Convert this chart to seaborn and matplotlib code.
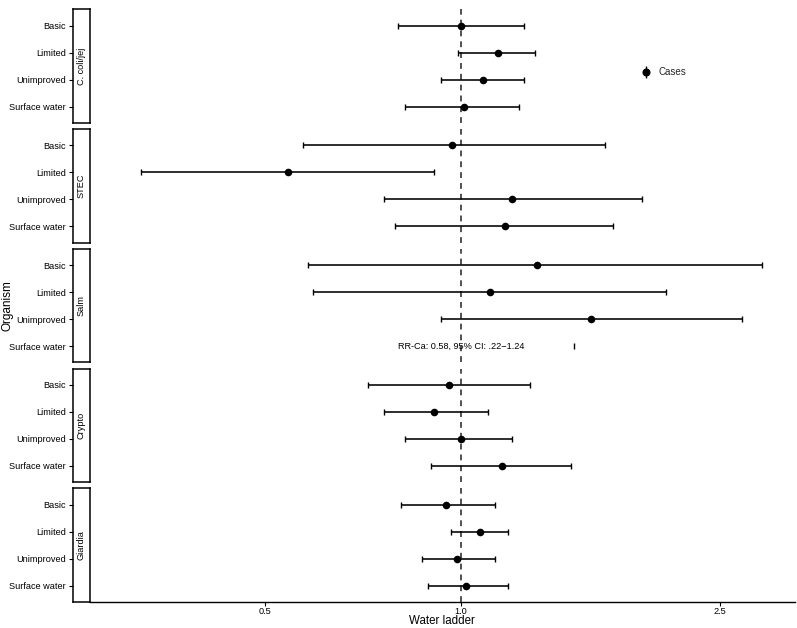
import numpy as np
import pandas as pd
import matplotlib
matplotlib.use("Agg")
import matplotlib.pyplot as plt
from matplotlib.lines import Line2D
from matplotlib.legend_handler import HandlerTuple
import seaborn as sns

sns.set_theme(style="white")
plt.rcParams['font.family'] = ['Liberation Sans', 'DejaVu Sans']

organisms = ["C. coli/jej", "STEC", "Salm", "Crypto", "Giardia"]
levels = ["Basic", "Limited", "Unimproved", "Surface water"]

est = {
    "C. coli/jej": [1.000, 1.139, 1.080, 1.010],
    "STEC":        [0.970, 0.542, 1.198, 1.169],
    "Salm":        [1.307, 1.108, 1.584, np.nan],
    "Crypto":      [0.958, 0.910, 1.000, 1.157],
    "Giardia":     [0.948, 1.070, 0.986, 1.018],
}
lower = {
    "C. coli/jej": [0.801, 0.990, 0.931, 0.820],
    "STEC":        [0.572, 0.322, 0.761, 0.791],
    "Salm":        [0.581, 0.592, 0.932, np.nan],
    "Crypto":      [0.720, 0.761, 0.820, 0.900],
    "Giardia":     [0.809, 0.965, 0.871, 0.890],
}
upper = {
    "C. coli/jej": [1.249, 1.298, 1.249, 1.229],
    "STEC":        [1.665, 0.910, 1.896, 1.715],
    "Salm":        [2.902, 2.064, 2.704, np.nan],
    "Crypto":      [1.278, 1.099, 1.198, 1.476],
    "Giardia":     [1.128, 1.181, 1.128, 1.181],
}
salm_sw_cap = 1.49
annot_text = "RR-Ca: 0.58, 95% CI: .22\u22121.24"
xticks = [0.5, 1.0, 2.5]
xticklabels = ["0.5", "1.0", "2.5"]

W, H = 797, 628
fig = plt.figure(figsize=(W / 100, H / 100), dpi=100)

panel_left, panel_right = 90, 795
strip_left = 73
ph = 113.5
tops = [9.3 + i * 119.75 for i in range(5)]

xlim = (np.exp((panel_left - 461) / 282.5), np.exp((panel_right - 461) / 282.5))

fs_tick = 6.6
axes = []
for i, org in enumerate(organisms):
    top = tops[i]
    b = 1 - (top + ph) / H
    ax = fig.add_axes([panel_left / W, b, (panel_right - panel_left) / W, ph / H])
    sax = fig.add_axes([strip_left / W, b, (panel_left - strip_left) / W, ph / H], sharey=ax)
    axes.append(ax)

    df = pd.DataFrame({"level": levels, "pos": np.arange(4), "est": est[org],
                       "lo": lower[org], "hi": upper[org]})
    d = df.dropna()
    ax.set_xscale("log")
    ax.axvline(1.0, color="#333333", linestyle=(0, (3.5, 3)), linewidth=1.2, zorder=1)
    ax.errorbar(d["est"], d["pos"], xerr=[d["est"] - d["lo"], d["hi"] - d["est"]],
                fmt="none", ecolor="black", elinewidth=1.15, capsize=2.0, capthick=1.0, zorder=2)
    sns.scatterplot(data=d, x="est", y="pos", ax=ax, color="black", s=30,
                    edgecolor="black", linewidth=0, zorder=3, legend=False)
    if org == "Salm":
        ax.plot([salm_sw_cap], [3], marker="|", color="black", markersize=4, mew=1.0, ls="none")
        ax.text(1.0, 3, annot_text, ha="center", va="center", fontsize=fs_tick, color="black")

    ax.set_xlim(*xlim)
    ax.set_ylim(3.6, -0.6)
    ax.set_ylabel("")
    ax.set_xlabel("")
    ax.tick_params(axis="y", left=False, labelleft=False)
    for s in ["top", "right", "left"]:
        ax.spines[s].set_visible(False)
    ax.minorticks_off()
    if i < 4:
        ax.spines["bottom"].set_visible(False)
        ax.tick_params(axis="x", bottom=False, labelbottom=False)
    else:
        ax.spines["bottom"].set_color("black")
        ax.spines["bottom"].set_linewidth(1.0)
        ax.set_xticks(xticks)
        ax.set_xticklabels(xticklabels)
        ax.tick_params(axis="x", bottom=True, length=3, width=0.8, color="black",
                       labelsize=fs_tick, pad=1.0, labelcolor="black")

    # strip
    sax.set_xlim(0, 1)
    sax.set_xticks([])
    sax.set_yticks(np.arange(4))
    sax.set_yticklabels(levels)
    sax.tick_params(axis="y", left=True, length=3, width=0.8, color="black",
                    labelsize=fs_tick, pad=2, labelcolor="black")
    for s in sax.spines.values():
        s.set_visible(True)
        s.set_color("black")
        s.set_linewidth(1.1)
    sax.set_facecolor("white")
    sax.text(0.5, 1.5, org, rotation=90, ha="center", va="center", fontsize=fs_tick,
             color="black", transform=sax.transData)
    sax.set_ylim(3.6, -0.6)

fig.text(8 / W, 1 - 306 / H, "Organism", rotation=90, ha="center", va="center",
         fontsize=8.5, color="black")
fig.text(442 / W, 1 - 627 / H, "Water ladder", ha="center", va="bottom",
         fontsize=8.3, color="black")

h = (Line2D([], [], marker="|", color="black", markersize=9, mew=1.0, ls="none"),
     Line2D([], [], marker="o", color="black", markersize=4.8, ls="none"))
fig.legend([h], ["Cases"], handler_map={tuple: HandlerTuple(ndivide=1, pad=0)},
           loc="center left", bbox_to_anchor=(632 / W, 1 - 72 / H), frameon=False,
           fontsize=fs_tick + 0.4, handlelength=1.1, handletextpad=0.7)

fig.savefig("out.png", dpi=100, facecolor="white")
